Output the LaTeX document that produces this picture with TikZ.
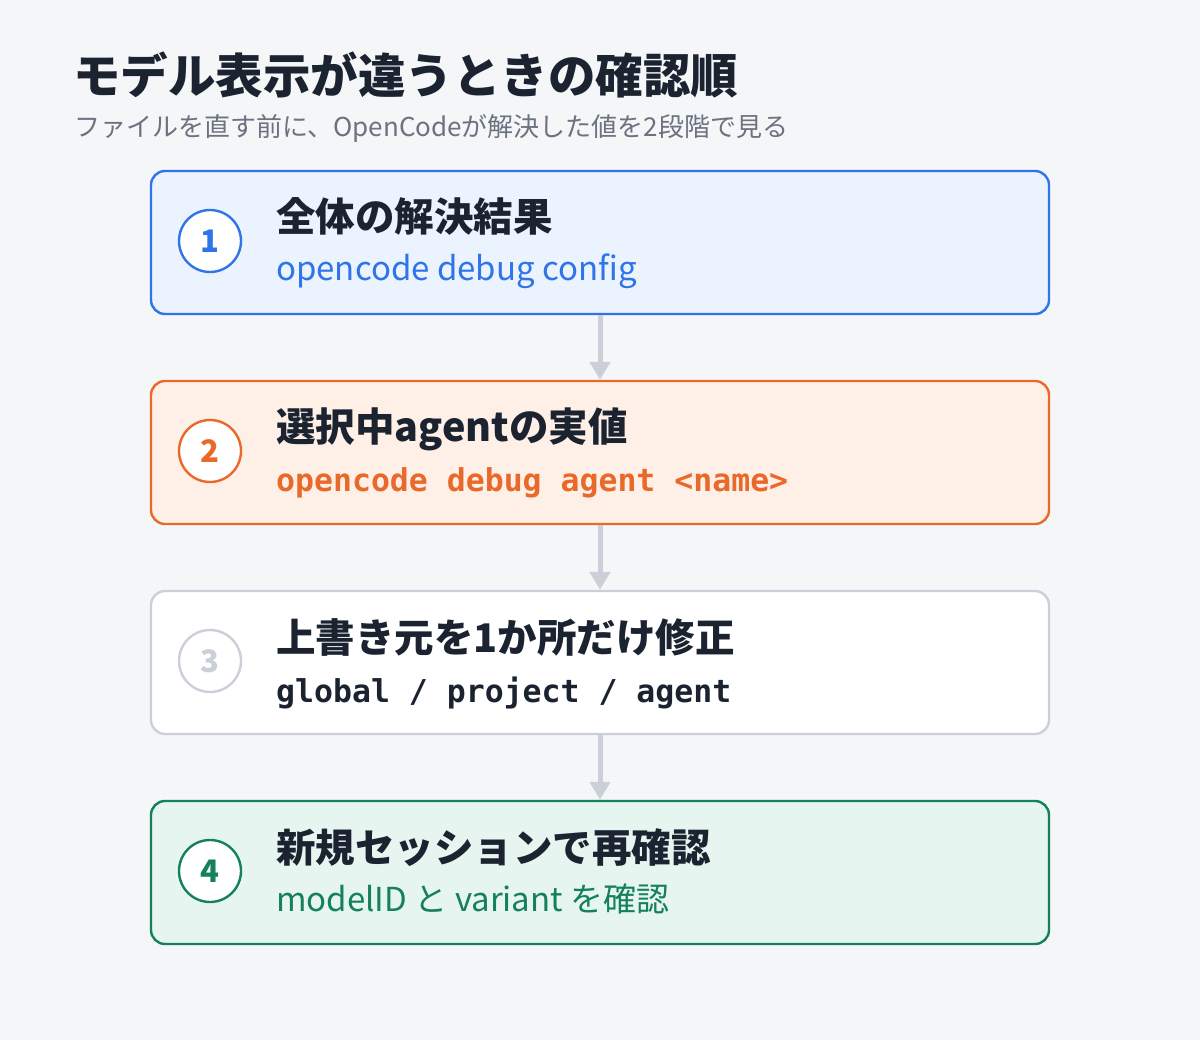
\documentclass[tikz,border=0pt]{standalone}
\usepackage{fontspec}
\setmainfont{Noto Sans CJK JP}
\newfontfamily\monof{DejaVu Sans Mono}
\usetikzlibrary{arrows.meta}
\definecolor{bgc}{HTML}{F4F6F8}
\definecolor{ink}{HTML}{1B2330}
\definecolor{subg}{HTML}{6B7280}
\definecolor{blueb}{HTML}{2F74E8}
\definecolor{bluef}{HTML}{EBF3FE}
\definecolor{orab}{HTML}{E8692A}
\definecolor{oraf}{HTML}{FEF0E7}
\definecolor{grayb}{HTML}{CBD0D8}
\definecolor{grnb}{HTML}{14805E}
\definecolor{grnf}{HTML}{E7F5F0}
\tikzset{
  stepbox/.style={rounded corners=14pt, line width=2.4pt, minimum width=898pt, minimum height=143pt, inner sep=0pt},
  numc/.style={circle, fill=white, line width=2.4pt, minimum size=62pt, inner sep=0pt, font=\fontsize{31}{33}\selectfont\bfseries},
  ttl/.style={anchor=base west, inner sep=0pt, text=ink, font=\fontsize{39.5}{42}\selectfont\bfseries},
  sub/.style={anchor=base west, inner sep=0pt, font=\fontsize{33}{36}\selectfont},
  msub/.style={anchor=base west, inner sep=0pt, font=\fontsize{31.5}{34}\selectfont\monof\bfseries},
  conn/.style={draw=grayb, line width=5pt, -{Triangle[length=18pt,width=20pt]}}
}
\begin{document}
\begin{tikzpicture}[x=1pt,y=-1pt]
\fill[bgc] (0,0) rectangle (1200,1040);
\useasboundingbox (0,0) rectangle (1200,1040);
\node[anchor=base west, inner sep=0pt, text=ink, font=\fontsize{47.5}{50}\selectfont\bfseries] (title) at (73,94) {モデル表示が違うときの確認順};
\node[anchor=base west, inner sep=0pt, text=subg, font=\fontsize{26}{28}\selectfont] (subtitle) at (74,137) {ファイルを直す前に、OpenCodeが解決した値を2段階で見る};
% boxes
\node[stepbox, draw=blueb, fill=bluef] (b1) at (600,242.5) {};
\node[stepbox, draw=orab, fill=oraf] (b2) at (600,452.5) {};
\node[stepbox, draw=grayb, fill=white] (b3) at (600,662.5) {};
\node[stepbox, draw=grnb, fill=grnf] (b4) at (600,872.5) {};
% connectors
\draw[conn] (b1.south) -- (b2.north);
\draw[conn] (b2.south) -- (b3.north);
\draw[conn] (b3.south) -- (b4.north);
% circles
\node[numc, draw=blueb, text=blueb] (c1) at (210,241) {1};
\node[numc, draw=orab, text=orab] (c2) at (210,451) {2};
\node[numc, draw=grayb, text=grayb] (c3) at (210,661) {3};
\node[numc, draw=grnb, text=grnb] (c4) at (210,871) {4};
% texts
\node[ttl] (t1) at (276,232) {全体の解決結果};
\node[sub, text=blueb] (s1) at (276,281) {opencode debug config};
\node[ttl] (t2) at (276,442) {選択中agentの実値};
\node[msub, text=orab] (s2) at (276,492) {opencode debug agent <name>};
\node[ttl] (t3) at (276,652) {上書き元を1か所だけ修正};
\node[msub, text=ink] (s3) at (276,702) {global / project / agent};
\node[ttl] (t4) at (276,862) {新規セッションで再確認};
\node[sub, text=grnb] (s4) at (276,911) {modelID と variant を確認};
\end{tikzpicture}
\end{document}
